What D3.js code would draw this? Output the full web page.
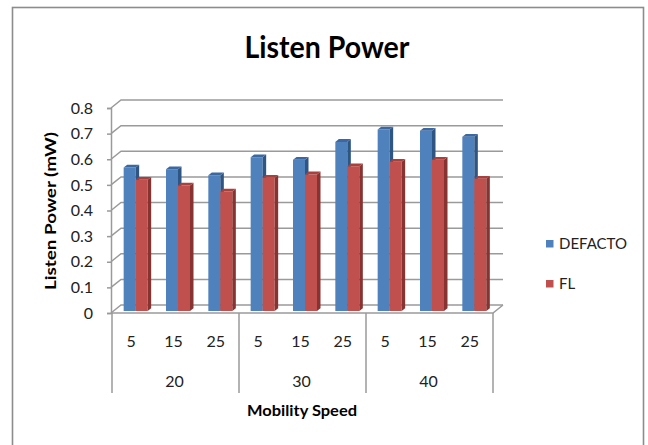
<!DOCTYPE html>
<html>
<head>
<meta charset="utf-8">
<script src="https://cdn.jsdelivr.net/npm/d3@7"></script>
<style>
  html, body { margin: 0; padding: 0; background: #fff; }
  svg { display: block; font-family: Lato, "Open Sans", sans-serif; }
</style>
</head>
<body>
<svg id="chart" width="648" height="445"></svg>
<script>
// Listen power per mobility speed, grouped by outer setting
const groups = ["20", "30", "40"];
const speeds = ["5", "15", "25"];
const seriesNames = ["DEFACTO", "FL"];
const defacto = [0.56, 0.553, 0.53, 0.60, 0.59, 0.66, 0.708, 0.703, 0.68];
const fl      = [0.512, 0.49, 0.466, 0.52, 0.533, 0.565, 0.582, 0.59, 0.516];
const yTicks = [0, 0.1, 0.2, 0.3, 0.4, 0.5, 0.6, 0.7, 0.8];

const colors = {
  DEFACTO: { front: "#4F81BD", side: "#2F5583", top: "#3B68A0" },
  FL:      { front: "#C0504D", side: "#873331", top: "#A8413E" }
};

const svg = d3.select("#chart");

// outer chart frame
svg.append("rect")
  .attr("x", 12.5).attr("y", 7.5)
  .attr("width", 631).attr("height", 450)
  .attr("fill", "none").attr("stroke", "#8c8c8c").attr("stroke-width", 1.6);

// title
svg.append("text")
  .attr("x", 327).attr("y", 58)
  .attr("text-anchor", "middle")
  .attr("font-weight", "bold").attr("font-size", 31)
  .attr("textLength", 165).attr("lengthAdjust", "spacingAndGlyphs")
  .text("Listen Power");

// oblique 3D projection: depth d in [0,1] shifts right and up
const DX = 10, DY = 8;
const y = d3.scaleLinear().domain([0, 0.8]).range([313, 108]);
const cats = d3.range(groups.length * speeds.length);
const x = d3.scaleBand().domain(cats).range([112, 493]);
const proj = (px, v, d) => [px + d * DX, y(v) - d * DY];

// back-wall gridlines and left-wall diagonals
const grid = svg.append("g").attr("stroke", "#9a9a9a").attr("stroke-width", 1.5).attr("fill", "none");
yTicks.forEach(t => {
  const a = proj(111, t, 0), b = proj(111, t, 1), c = proj(493, t, 1);
  grid.append("path").attr("d", `M${a[0]},${a[1]}L${b[0]},${b[1]}L${c[0]},${c[1]}`);
});
// floor front edge and right diagonal
{
  const a = proj(111, 0, 0), b = proj(493, 0, 0), c = proj(493, 0, 1);
  grid.append("path").attr("d", `M${a[0]},${a[1]}L${b[0]},${b[1]}L${c[0]},${c[1]}`);
}

// value axis
const yAxis = svg.append("g")
  .attr("transform", "translate(111,0)")
  .call(d3.axisLeft(y).tickValues(yTicks).tickSize(4).tickPadding(14)
    .tickFormat(d => d === 0 ? "0" : d3.format(".1f")(d)));
yAxis.select(".domain").attr("stroke", "#9a9a9a").attr("stroke-width", 1.5);
yAxis.selectAll(".tick line").attr("stroke", "#9a9a9a").attr("stroke-width", 1.5);
yAxis.selectAll(".tick text").attr("font-size", 16).attr("fill", "#222")
  .attr("font-family", "Lato, sans-serif");

// y axis title
svg.append("text")
  .attr("transform", "translate(56,211) rotate(-90)")
  .attr("text-anchor", "middle")
  .attr("font-weight", "bold").attr("font-size", 15)
  .attr("textLength", 158).attr("lengthAdjust", "spacingAndGlyphs")
  .text("Listen Power (mW)");

// 3D bars
const barW = 12, d0 = 0.25, d1 = 0.6;
const bars = svg.append("g");
cats.forEach(i => {
  const cx = x(i) + x.bandwidth() / 2;
  [["DEFACTO", defacto[i]], ["FL", fl[i]]].forEach(([name, v], k) => {
    const left = cx - barW + k * barW;
    const right = left + barW;
    const c = colors[name];
    const p = (px, val, d) => proj(px, val, d).join(",");
    // front face
    bars.append("path").attr("fill", c.front)
      .attr("d", `M${p(left, 0, d0)}L${p(right, 0, d0)}L${p(right, v, d0)}L${p(left, v, d0)}Z`);
    // side face
    bars.append("path").attr("fill", c.side)
      .attr("d", `M${p(right, 0, d0)}L${p(right, 0, d1)}L${p(right, v, d1)}L${p(right, v, d0)}Z`);
    // top face
    bars.append("path").attr("fill", c.top)
      .attr("d", `M${p(left, v, d0)}L${p(right, v, d0)}L${p(right, v, d1)}L${p(left, v, d1)}Z`);
  });
});

// category axis: speed labels, group labels and separators
const catAxis = svg.append("g");
const gBand = d3.scaleBand().domain(groups).range([112, 493]);
groups.forEach(g => {
  catAxis.append("line")
    .attr("x1", gBand(g)).attr("x2", gBand(g))
    .attr("y1", 313).attr("y2", 393)
    .attr("stroke", "#9a9a9a").attr("stroke-width", 1.5);
});
catAxis.append("line")
  .attr("x1", 493).attr("x2", 493).attr("y1", 313).attr("y2", 393)
  .attr("stroke", "#9a9a9a").attr("stroke-width", 1.5);

cats.forEach(i => {
  catAxis.append("text")
    .attr("x", x(i) + x.bandwidth() / 2 - 2).attr("y", 347)
    .attr("text-anchor", "middle").attr("font-size", 16).attr("fill", "#222")
    .text(speeds[i % speeds.length]);
});
groups.forEach(g => {
  catAxis.append("text")
    .attr("x", gBand(g) + gBand.bandwidth() / 2 - 1).attr("y", 386.5)
    .attr("text-anchor", "middle").attr("font-size", 16).attr("fill", "#222")
    .text(g);
});

svg.append("text")
  .attr("x", 302).attr("y", 416)
  .attr("text-anchor", "middle")
  .attr("font-weight", "bold").attr("font-size", 16)
  .attr("textLength", 110).attr("lengthAdjust", "spacingAndGlyphs")
  .text("Mobility Speed");

// legend
const legend = svg.append("g");
seriesNames.forEach((name, i) => {
  const ly = 240 + i * 40;
  legend.append("rect").attr("x", 546).attr("y", ly)
    .attr("width", 7.5).attr("height", 7.5).attr("fill", colors[name].front);
  legend.append("text").attr("x", 559).attr("y", ly + 8.5)
    .attr("font-size", 15).attr("fill", "#222").text(name);
});
</script>
</body>
</html>
